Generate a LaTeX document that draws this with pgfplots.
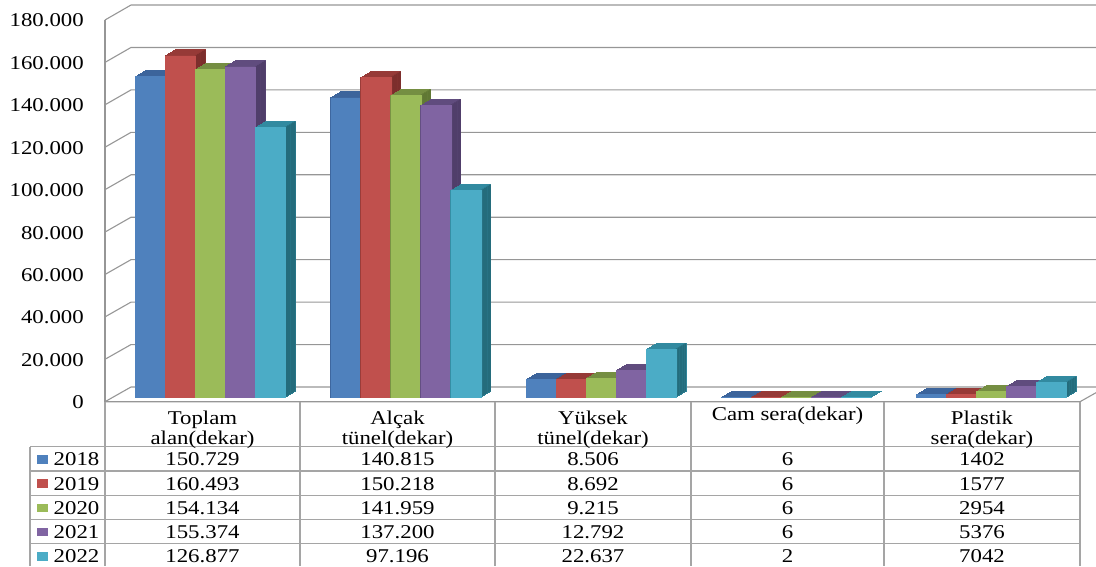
\documentclass[border=0pt]{standalone}
\usepackage{pgfplots}
\pgfplotsset{compat=1.18}
\usepackage{pgfplotstable}
\usepackage{fontspec}
\setmainfont{Liberation Serif}[FakeStretch=1.17]
\definecolor{fA}{HTML}{4F81BD}\definecolor{tA}{RGB}{60,100,155}\definecolor{sA}{RGB}{44,78,124}
\definecolor{fB}{HTML}{C0504D}\definecolor{tB}{RGB}{150,58,55}\definecolor{sB}{RGB}{124,46,44}
\definecolor{fC}{HTML}{9BBB59}\definecolor{tC}{RGB}{117,142,66}\definecolor{sC}{RGB}{96,120,52}
\definecolor{fD}{HTML}{8064A2}\definecolor{tD}{RGB}{96,76,126}\definecolor{sD}{RGB}{80,62,106}
\definecolor{fE}{HTML}{4BACC6}\definecolor{tE}{RGB}{50,138,160}\definecolor{sE}{RGB}{36,108,124}
\definecolor{gridc}{RGB}{150,150,150}
\definecolor{tblc}{RGB}{165,165,165}

\pgfplotstableread{
x y18 y19 y20 y21 y22
0.5 150729 160493 154134 155374 126877
1.5 140815 150218 141959 137200 97196
2.5 8506 8692 9215 12792 22637
3.5 6 6 6 6 2
4.5 1402 1577 2954 5376 7042
}\data

% #1 column, #2 front, #3 top, #4 side, #5 bar shift, #6 side shift
\newcommand{\threed}[6]{%
  \pgfplotsinvokeforeach{0,...,6}{%
    \addplot[fill=#3,draw=#3,line width=0.9pt,bar shift=#5pt,xshift={##1*1.6667pt},yshift={##1*1pt},forget plot] table[x=x,y=#1]{\data};
  }%
  \pgfplotsinvokeforeach{1,...,6}{%
    \addplot[fill=#4,draw=none,bar width=1.7pt,bar shift=#6pt,xshift={##1*1.6667pt},yshift={##1*1pt},forget plot] table[x=x,y=#1]{\data};
  }%
  \addplot[fill=#2,draw=#2,line width=0.5pt,bar shift=#5pt,forget plot] table[x=x,y=#1]{\data};
}

\newcommand{\tf}{\fontsize{19.5}{23}\selectfont}

\begin{document}
\begin{tikzpicture}
\begin{scope}[x=1pt,y=-1pt]
  % walls and gridlines
  \foreach \v in {0,20,...,180}{
    \pgfmathsetmacro{\yf}{401.7-\v*2.1206}
    \pgfmathsetmacro{\yb}{387-\v*2.1222}
    \draw[gridc,line width=1.1pt] (105,\yf) -- (131,\yb) -- (1096,\yb);
  }
  \draw[gridc,line width=1.1pt] (105,20) -- (105,401.7);
  \draw[gridc,line width=1.1pt] (105,401.7) -- (1080,401.7) -- (1096,392.7);
  % y tick labels
  \foreach \v/\lab in {0/0,20/20.000,40/40.000,60/60.000,80/80.000,100/100.000,120/120.000,140/140.000,160/160.000,180/180.000}{
    \pgfmathsetmacro{\yf}{401.7-\v*2.1206+7}
    \node[anchor=base east,inner sep=0pt,font=\tf] at (84,\yf) {\lab};
  }
\end{scope}

\begin{axis}[at={(113pt,-397.7pt)},anchor=south west,scale only axis,
  width=976pt,height=383.4pt,xmin=0,xmax=5,ymin=0,ymax=180000,
  hide axis,clip=false,ybar,bar width=30pt]
  \threed{y18}{fA}{tA}{sA}{-60}{-45.85}
  \threed{y19}{fB}{tB}{sB}{-30}{-15.85}
  \threed{y20}{fC}{tC}{sC}{0}{14.15}
  \threed{y21}{fD}{tD}{sD}{30}{44.15}
  \threed{y22}{fE}{tE}{sE}{60}{74.15}
\end{axis}

\begin{scope}[x=1pt,y=-1pt]
  % data table
  \draw[tblc,line width=1.1pt] (105,401.7) -- (105,566);
  \foreach \xx in {300,495,691,884,1080}{\draw[tblc,line width=1.1pt] (\xx,401.7) -- (\xx,566);}
  \draw[tblc,line width=1.1pt] (30,446.7) -- (30,566);
  \foreach \yy in {446.7,471,495.3,519.5,543.7}{\draw[tblc,line width=1.1pt] (30,\yy) -- (1080,\yy);}
  % header
  \node[anchor=base,inner sep=0pt,font=\tf] at (202.5,424) {Toplam};
  \node[anchor=base,inner sep=0pt,font=\tf] at (202.5,444.3) {alan(dekar)};
  \node[anchor=base,inner sep=0pt,font=\tf] at (397.5,424) {Alçak};
  \node[anchor=base,inner sep=0pt,font=\tf] at (397.5,444.3) {tünel(dekar)};
  \node[anchor=base,inner sep=0pt,font=\tf] at (593,424) {Yüksek};
  \node[anchor=base,inner sep=0pt,font=\tf] at (593,444.3) {tünel(dekar)};
  \node[anchor=base,inner sep=0pt,font=\tf] at (787.5,420) {Cam sera(dekar)};
  \node[anchor=base,inner sep=0pt,font=\tf] at (982,424) {Plastik};
  \node[anchor=base,inner sep=0pt,font=\tf] at (982,444.3) {sera(dekar)};
  % rows
  \foreach \yr/\cc/\a/\b/\c/\d/\e/\bs in {
      2018/fA/150.729/140.815/8.506/6/1402/465.7,
      2019/fB/160.493/150.218/8.692/6/1577/490,
      2020/fC/154.134/141.959/9.215/6/2954/514.3,
      2021/fD/155.374/137.200/12.792/6/5376/538.5,
      2022/fE/126.877/97.196/22.637/2/7042/562.7}{
    \fill[\cc] (37,\bs-10.7) rectangle (47.5,\bs-2.2);
    \node[anchor=base west,inner sep=0pt,font=\tf] at (53.5,\bs) {\yr};
    \node[anchor=base,inner sep=0pt,font=\tf] at (202.5,\bs) {\a};
    \node[anchor=base,inner sep=0pt,font=\tf] at (397.5,\bs) {\b};
    \node[anchor=base,inner sep=0pt,font=\tf] at (593,\bs) {\c};
    \node[anchor=base,inner sep=0pt,font=\tf] at (787.5,\bs) {\d};
    \node[anchor=base,inner sep=0pt,font=\tf] at (982,\bs) {\e};
  }
  \pgfresetboundingbox
  \path[use as bounding box] (0,0) rectangle (1096,566);
\end{scope}
\end{tikzpicture}
\end{document}
